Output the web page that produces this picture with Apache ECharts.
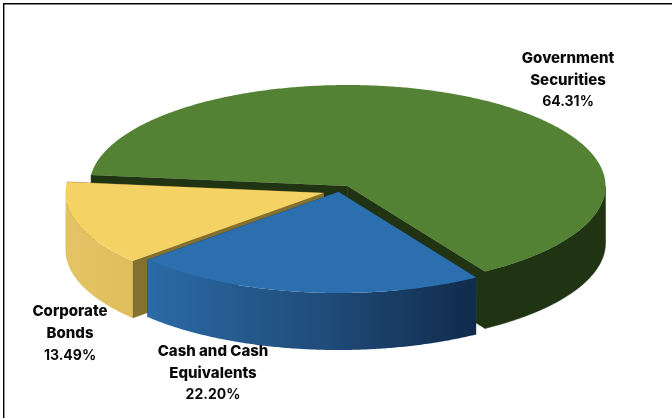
<!DOCTYPE html>
<html>
<head>
<meta charset="utf-8">
<style>
  html, body { margin: 0; padding: 0; background: #fff; }
  #chart { width: 672px; height: 418px; }
</style>
<script src="https://cdn.jsdelivr.net/npm/echarts@6/dist/echarts.min.js"></script>
</head>
<body>
<div id="chart"></div>
<script>
// Portfolio allocation, drawn as a tilted, exploded pie
const categories = ['Government Securities', 'Corporate Bonds', 'Cash and Cash Equivalents'];
const shares = [64.31, 13.49, 22.20];
const labelLines = [['Government', 'Securities'], ['Corporate', 'Bonds'], ['Cash and Cash', 'Equivalents']];

// Pie geometry in pixels
const RX = 258, RY = 101, DEPTH = 57;
const START_DEG = 57.8;                    // rim angle where the first slice begins, sweeping backwards
const apexes = [[347.5, 186], [323.5, 193], [338.5, 192]];
const labelCentres = [[568, 80], [70, 333.5], [213, 373]];

const topColours = ['#548235', '#F5D264', '#2C6FAF'];
const faceColours = ['#203312', '#84702F', '#1F4B78'];
const wallFills = [
  '#203312',
  { type: 'linear', x: 0, y: 0, x2: 1, y2: 0, colorStops: [
    { offset: 0, color: '#E3C464' }, { offset: 1, color: '#DFBE5C' } ] },
  { type: 'linear', x: 0, y: 0, x2: 1, y2: 0, colorStops: [
    { offset: 0, color: '#2B6AA6' }, { offset: 0.55, color: '#1F4B78' }, { offset: 1, color: '#102B4C' } ] }
];

const LABEL_FONT = 'Inter, sans-serif';
const NAME_WEIGHT_SIZE = '800 15px ';
const PERCENT_WEIGHT_SIZE = '700 14px ';
const LINE_GAP = 22;

const rad = d => d * Math.PI / 180;

// Slice spans: the first runs backwards from START_DEG over the rear of the pie,
// the others continue forwards from its far end.
const spans = (function () {
  const sweep = shares.map(s => s / 100 * 360);
  const firstEnd = START_DEG + 360 - sweep[0];
  const cashEnd = START_DEG + sweep[2];
  return [
    [firstEnd, START_DEG + 360],
    [cashEnd, firstEnd],
    [START_DEG, cashEnd]
  ];
})();

function rim(apex, deg, drop) {
  return [apex[0] + RX * Math.cos(rad(deg)), apex[1] + RY * Math.sin(rad(deg)) + (drop || 0)];
}

function arcPoints(apex, from, to, drop) {
  const pts = [];
  const steps = Math.max(4, Math.ceil(Math.abs(to - from) * 2));
  for (let i = 0; i <= steps; i++) pts.push(rim(apex, from + (to - from) * i / steps, drop));
  return pts;
}

// Parts of the rim that face the viewer (lower half of the ellipse)
function frontRanges(a, b) {
  const out = [];
  for (let k = -1; k <= 2; k++) {
    const lo = Math.max(a, k * 360), hi = Math.min(b, k * 360 + 180);
    if (hi > lo) out.push([lo, hi]);
  }
  return out;
}

function renderSlice(params, api) {
  const i = api.value(0);
  const apex = apexes[i];
  const [a, b] = spans[i];
  const children = [];

  [a, b].forEach(function (deg) {
    const edge = rim(apex, deg);
    children.push({
      type: 'polygon',
      shape: { points: [apex, edge, [edge[0], edge[1] + DEPTH], [apex[0], apex[1] + DEPTH]] },
      style: { fill: faceColours[i], stroke: faceColours[i], lineWidth: 0.5 }
    });
  });

  frontRanges(a, b).forEach(function (r) {
    const upper = arcPoints(apex, r[0], r[1], 0);
    const lower = arcPoints(apex, r[1], r[0], DEPTH);
    const fill = wallFills[i];
    children.push({
      type: 'polygon',
      shape: { points: upper.concat(lower) },
      style: typeof fill === 'string'
        ? { fill: fill, stroke: fill, lineWidth: 0.5 }
        : { fill: fill }
    });
  });

  children.push({
    type: 'polygon',
    shape: { points: [apex].concat(arcPoints(apex, a, b, 0)) },
    style: { fill: topColours[i] }
  });

  const c = labelCentres[i];
  const lines = labelLines[i].concat([api.value(1).toFixed(2) + '%']);
  lines.forEach(function (line, n) {
    children.push({
      type: 'text',
      z2: 100,
      style: {
        text: line,
        x: c[0],
        y: c[1] + (n - 1) * LINE_GAP,
        align: 'center',
        verticalAlign: 'middle',
        fill: '#0A0A0A',
        font: (n === 2 ? PERCENT_WEIGHT_SIZE : NAME_WEIGHT_SIZE) + LABEL_FONT
      }
    });
  });

  return { type: 'group', children: children };
}

const chart = echarts.init(document.getElementById('chart'), null, { renderer: 'canvas' });
chart.setOption({
  animation: false,
  backgroundColor: '#fff',
  graphic: [
    { type: 'rect', shape: { x: 3, y: 3, width: 669, height: 1.4 }, style: { fill: '#000' } },
    { type: 'rect', shape: { x: 3, y: 3, width: 1.4, height: 415 }, style: { fill: '#000' } }
  ],
  series: [{
    type: 'custom',
    coordinateSystem: 'none',
    renderItem: renderSlice,
    data: categories.map((name, i) => ({ name: name, value: [i, shares[i]] }))
  }]
});
</script>
</body>
</html>
